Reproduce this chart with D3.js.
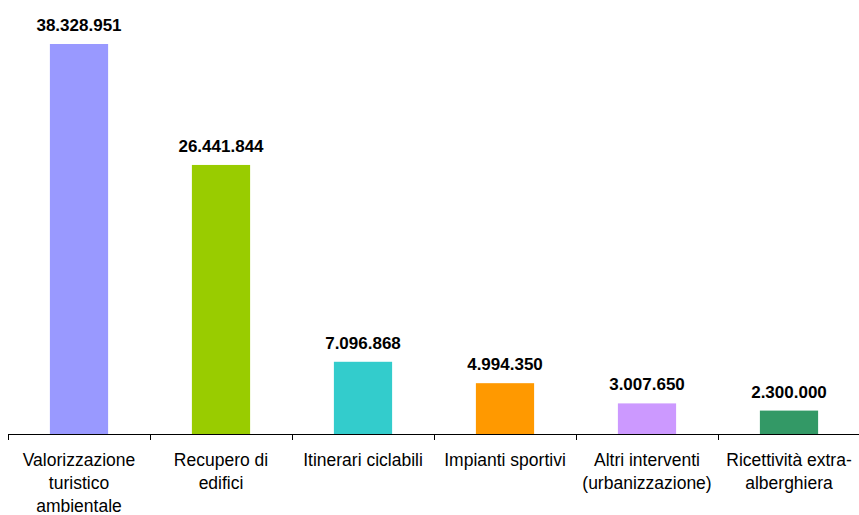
<!DOCTYPE html>
<html>
<head>
<meta charset="utf-8">
<script src="https://cdn.jsdelivr.net/npm/d3@7"></script>
<style>
  html, body { margin: 0; padding: 0; background: #fff; }
  svg { display: block; }
</style>
</head>
<body>
<svg id="chart" width="859" height="515"></svg>
<script>
const categories = [
  "Valorizzazione turistico ambientale",
  "Recupero di edifici",
  "Itinerari ciclabili",
  "Impianti sportivi",
  "Altri interventi (urbanizzazione)",
  "Ricettività extra-alberghiera"
];
const categoryLines = [
  ["Valorizzazione", "turistico", "ambientale"],
  ["Recupero di", "edifici"],
  ["Itinerari ciclabili"],
  ["Impianti sportivi"],
  ["Altri interventi", "(urbanizzazione)"],
  ["Ricettività extra-", "alberghiera"]
];
const values = [38328951, 26441844, 7096868, 4994350, 3007650, 2300000];
const colors = ["#9999FF", "#99CC00", "#33CCCC", "#FF9900", "#CC99FF", "#339966"];

const svg = d3.select("#chart");
const baseY = 434;
const x = d3.scaleBand().domain(categories).range([8, 860]).padding(0);
const y = d3.scaleLinear().domain([0, 40000000]).range([baseY, 27]);
const barFrac = 0.41;
const fmt = v => d3.format(",")(v).replace(/,/g, ".");

const g = svg.append("g");

g.selectAll("rect.bar")
  .data(values)
  .enter().append("rect")
  .attr("class", "bar")
  .attr("x", (d, i) => x(categories[i]) + x.bandwidth() * (1 - barFrac) / 2)
  .attr("width", x.bandwidth() * barFrac)
  .attr("y", d => y(d))
  .attr("height", d => y(0) - y(d))
  .attr("fill", (d, i) => colors[i]);

g.selectAll("text.val")
  .data(values)
  .enter().append("text")
  .attr("class", "val")
  .attr("x", (d, i) => x(categories[i]) + x.bandwidth() / 2)
  .attr("y", d => y(d) - 13)
  .attr("text-anchor", "middle")
  .attr("font-family", "Liberation Sans, Arial, sans-serif")
  .attr("font-weight", "bold")
  .attr("font-size", "17px")
  .attr("fill", "#000")
  .text(d => fmt(d));

// axis line
g.append("line")
  .attr("x1", x.range()[0]).attr("x2", 859)
  .attr("y1", baseY + 0.5).attr("y2", baseY + 0.5)
  .attr("stroke", "#000").attr("stroke-width", 1);

const tickPos = categories.map(c => x(c));
g.selectAll("line.tick")
  .data(tickPos)
  .enter().append("line")
  .attr("class", "tick")
  .attr("x1", d => Math.round(d) + 0.5).attr("x2", d => Math.round(d) + 0.5)
  .attr("y1", baseY).attr("y2", baseY + 6)
  .attr("stroke", "#000").attr("stroke-width", 1);

const labels = g.selectAll("text.cat")
  .data(categoryLines)
  .enter().append("text")
  .attr("class", "cat")
  .attr("text-anchor", "middle")
  .attr("font-family", "Liberation Sans, Arial, sans-serif")
  .attr("font-size", "17.5px")
  .attr("fill", "#000");

labels.each(function(lines, i) {
  const t = d3.select(this);
  lines.forEach((ln, j) => {
    t.append("tspan")
      .attr("x", x(categories[i]) + x.bandwidth() / 2)
      .attr("y", 466 + j * 23)
      .text(ln);
  });
});
</script>
</body>
</html>
